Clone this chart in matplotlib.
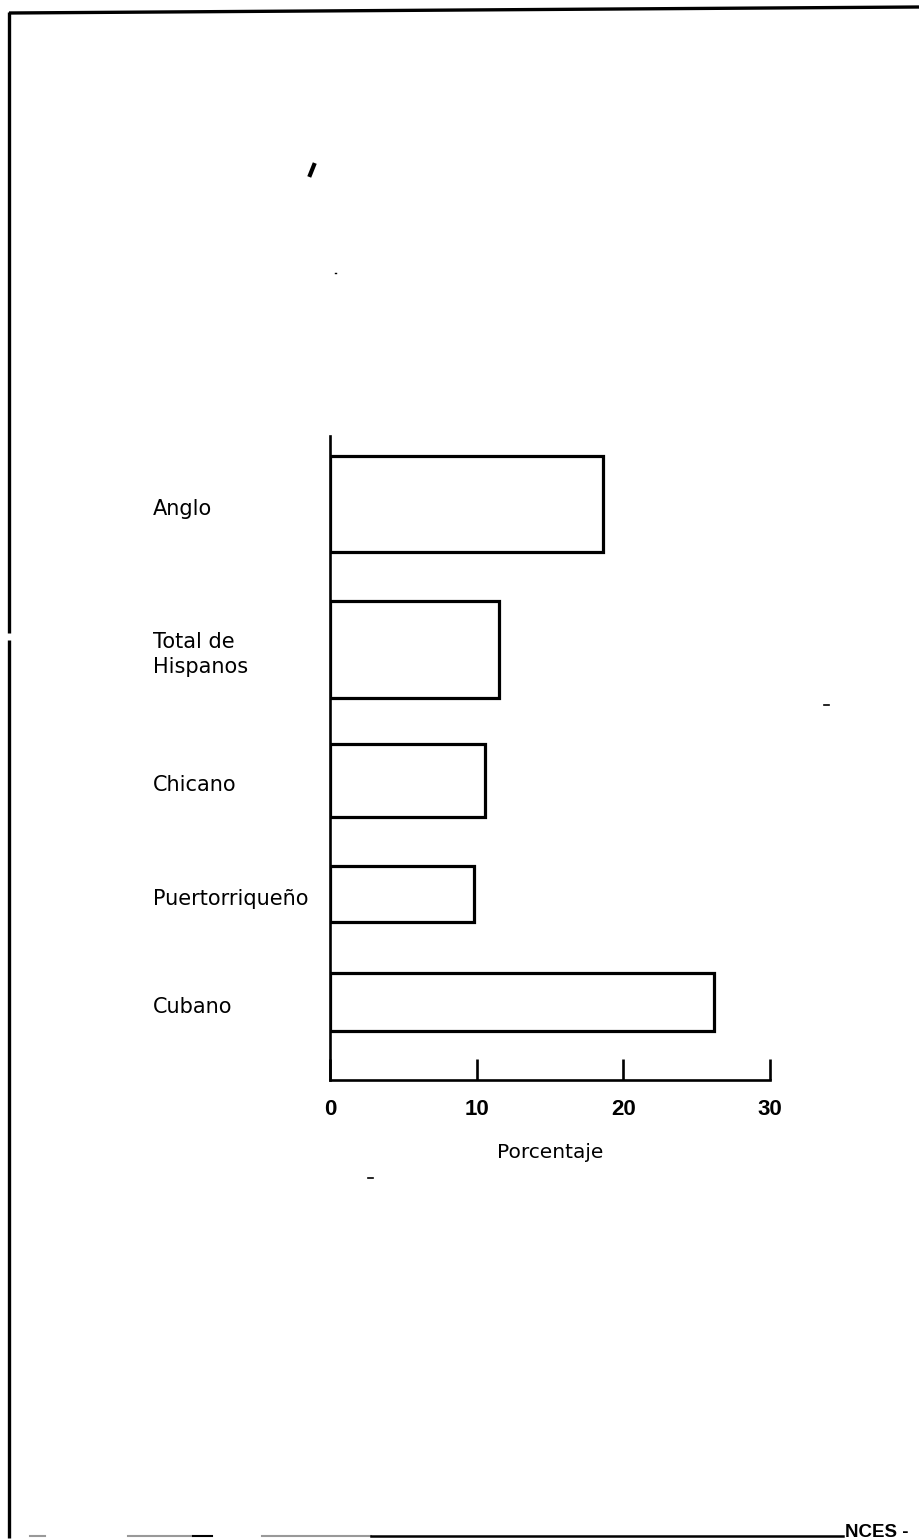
import matplotlib
matplotlib.use("Agg")
import matplotlib.pyplot as plt
import matplotlib.transforms as mtransforms

# ---- data ----
categories = ["Anglo", "Total de\nHispanos", "Chicano", "Puertorriqueño", "Cubano"]
values = [18.6, 11.5, 10.6, 9.8, 26.2]
x_ticks = [0, 10, 20, 30]
x_tick_labels = ["0", "10", "20", "30"]
x_label = "Porcentaje"
footer = "NCES -"

# ---- layout (row positions / bar thicknesses in row units) ----
row_pos = [0.0, 1.17, 2.22, 3.13, 4.0]
bar_h = [0.77, 0.78, 0.59, 0.45, 0.47]

W, H = 919, 1539
fig = plt.figure(figsize=(W / 100, H / 100), dpi=100)
fig.patch.set_facecolor("white")

# background decoration axes in pixel coords (page frame, scan specks)
bg = fig.add_axes([0, 0, 1, 1], zorder=-1)
bg.set_xlim(0, W)
bg.set_ylim(H, 0)
bg.axis("off")
k = "black"
bg.plot([9, 919], [13, 7], color=k, lw=2.4, solid_capstyle="butt")
bg.plot([9, 9], [12, 633], color=k, lw=2.4, solid_capstyle="butt")
bg.plot([9, 9], [640, 1538], color=k, lw=2.4, solid_capstyle="butt")
bg.plot([30, 45], [1536, 1536], color="#999999", lw=1.5)
bg.plot([128, 192], [1536, 1536], color="#999999", lw=1.5)
bg.plot([193, 212], [1536, 1536], color=k, lw=1.5)
bg.plot([262, 371], [1536, 1536], color="#999999", lw=1.5)
bg.plot([371, 843], [1536, 1536], color=k, lw=1.8)
bg.plot([310, 314], [175, 165], color=k, lw=3)
bg.plot([335, 336], [273, 273], color=k, lw=1)
bg.plot([824, 829], [705, 705], color=k, lw=1.2)
bg.plot([368, 373], [1178, 1178], color=k, lw=1.2)
bg.text(845, 1537, footer, fontsize=13.5, fontweight="bold",
        family=["Liberation Sans", "DejaVu Sans"], va="baseline", ha="left")

# main chart axes
left, right = 330, 770
top, bottom = 436, 1080
ax = fig.add_axes([left / W, (H - bottom) / H, (right - left) / W, (bottom - top) / H])
ax.set_facecolor("none")

ax.barh(row_pos, values, height=bar_h, left=0, color="white",
        edgecolor="black", linewidth=2.3, zorder=3)

ax.set_xlim(0, 30)
ax.set_ylim((bottom - 504) / 124.5, (top - 504) / 124.5)

for s in ["top", "right"]:
    ax.spines[s].set_visible(False)
for s in ["left", "bottom"]:
    ax.spines[s].set_linewidth(1.9)
    ax.spines[s].set_color("black")

ax.set_yticks([])
ax.set_xticks(x_ticks)
ax.set_xticklabels(x_tick_labels, fontsize=16, fontweight="bold",
                   family=["Liberation Sans", "DejaVu Sans"])
ax.tick_params(axis="x", direction="in", length=15, width=1.9, pad=14)

ax.set_xlabel(x_label, fontsize=14.5, family=["DejaVu Sans"], labelpad=16)

# category labels, left-aligned at a fixed figure x
trans = mtransforms.blended_transform_factory(fig.transFigure, ax.transData)
trans = trans + mtransforms.ScaledTranslation(0, -5 / 100, fig.dpi_scale_trans)
for y, lab in zip(row_pos, categories):
    ax.text(153 / W, y, lab, transform=trans, ha="left", va="center",
            fontsize=15, family=["DejaVu Sans"], linespacing=1.35)

fig.savefig("out.png", dpi=100, facecolor="white")
